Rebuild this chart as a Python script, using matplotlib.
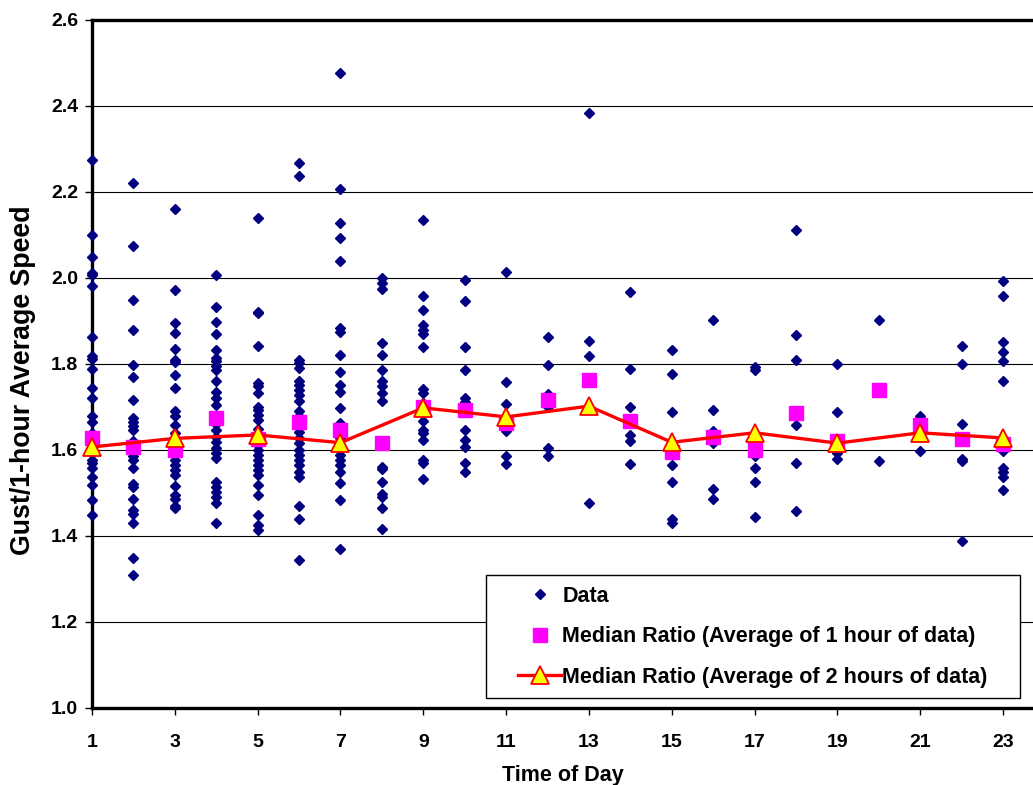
import matplotlib
matplotlib.use("Agg")
import matplotlib.pyplot as plt
from matplotlib.lines import Line2D
from matplotlib.legend_handler import HandlerLine2D

plt.rcParams['font.family'] = ['Liberation Sans', 'DejaVu Sans']
plt.rcParams['font.weight'] = 'bold'

# Gust / 1-hour average speed ratios, one list per hour of day
h01 = [2.275, 2.100, 2.049, 2.012, 2.008, 1.982, 1.862, 1.818, 1.812, 1.788, 1.744, 1.721, 1.678,
       1.664, 1.640, 1.620, 1.605, 1.592, 1.577, 1.570, 1.557, 1.538, 1.518, 1.483, 1.448]
h02 = [2.222, 2.074, 1.948, 1.880, 1.798, 1.770, 1.717, 1.674, 1.664, 1.655, 1.647, 1.620, 1.585,
       1.577, 1.557, 1.522, 1.514, 1.485, 1.460, 1.452, 1.430, 1.350, 1.310]
h03 = [2.161, 1.971, 1.895, 1.871, 1.834, 1.810, 1.805, 1.775, 1.744, 1.690, 1.679, 1.658, 1.640,
       1.588, 1.577, 1.565, 1.553, 1.542, 1.516, 1.495, 1.485, 1.470, 1.464]
h04 = [2.008, 1.932, 1.897, 1.870, 1.833, 1.814, 1.806, 1.795, 1.787, 1.760, 1.736, 1.720, 1.705,
       1.660, 1.647, 1.631, 1.619, 1.604, 1.592, 1.581, 1.526, 1.514, 1.503, 1.491, 1.476, 1.430]
h05 = [2.140, 1.922, 1.918, 1.841, 1.756, 1.748, 1.732, 1.701, 1.693, 1.682, 1.670, 1.650, 1.625,
       1.612, 1.600, 1.588, 1.577, 1.565, 1.553, 1.542, 1.518, 1.495, 1.448, 1.425, 1.415]
h06 = [2.267, 2.237, 1.810, 1.802, 1.791, 1.760, 1.752, 1.740, 1.729, 1.713, 1.690, 1.680, 1.643,
       1.627, 1.616, 1.600, 1.588, 1.577, 1.565, 1.549, 1.538, 1.470, 1.439, 1.345]
h07 = [2.477, 2.207, 2.129, 2.094, 2.039, 1.884, 1.875, 1.821, 1.782, 1.751, 1.735, 1.697, 1.662,
       1.651, 1.628, 1.588, 1.577, 1.565, 1.549, 1.524, 1.483, 1.370]
h08 = [2.001, 1.988, 1.974, 1.849, 1.821, 1.787, 1.760, 1.750, 1.733, 1.714, 1.560, 1.555, 1.526,
       1.498, 1.490, 1.464, 1.416]
h09 = [2.135, 1.959, 1.925, 1.890, 1.879, 1.870, 1.840, 1.743, 1.732, 1.709, 1.685, 1.668, 1.646,
       1.640, 1.623, 1.577, 1.569, 1.532]
h10 = [1.995, 1.946, 1.840, 1.786, 1.720, 1.711, 1.706, 1.646, 1.623, 1.606, 1.569, 1.549]
h11 = [2.015, 1.758, 1.707, 1.662, 1.644, 1.587, 1.567]
h12 = [1.862, 1.798, 1.731, 1.700, 1.604, 1.587]
h13 = [2.384, 1.853, 1.818, 1.477]
h14 = [1.967, 1.788, 1.700, 1.634, 1.620, 1.567]
h15 = [1.833, 1.776, 1.689, 1.566, 1.526, 1.440, 1.431]
h16 = [1.902, 1.692, 1.644, 1.616, 1.509, 1.487]
h17 = [1.793, 1.785, 1.585, 1.557, 1.526, 1.444]
h18 = [2.112, 1.868, 1.810, 1.657, 1.570, 1.459]
h19 = [1.799, 1.688, 1.593, 1.579]
h20 = [1.903, 1.574]
h21 = [1.678, 1.597]
h22 = [1.843, 1.800, 1.661, 1.578, 1.574, 1.389]
h23 = [1.992, 1.957, 1.851, 1.828, 1.806, 1.760, 1.597, 1.558, 1.550, 1.537, 1.508]

hourly_data = [h01, h02, h03, h04, h05, h06, h07, h08, h09, h10, h11, h12,
               h13, h14, h15, h16, h17, h18, h19, h20, h21, h22, h23]

hours = list(range(1, 24))
median_1h = [1.629, 1.606, 1.601, 1.675, 1.625, 1.666, 1.646, 1.617, 1.700, 1.693, 1.662, 1.716,
             1.763, 1.667, 1.596, 1.631, 1.601, 1.686, 1.620, 1.739, 1.657, 1.626, 1.613]

hours_2h = [1, 3, 5, 7, 9, 11, 13, 15, 17, 19, 21, 23]
median_2h = [1.607, 1.627, 1.635, 1.617, 1.698, 1.677, 1.702, 1.618, 1.640, 1.616, 1.640, 1.628]

y_ticks = [1.0, 1.2, 1.4, 1.6, 1.8, 2.0, 2.2, 2.4, 2.6]

W, H = 1033, 785
fig = plt.figure(figsize=(W / 100, H / 100), dpi=100)
ax = fig.add_axes([92 / W, 1 - 708 / H, (W - 92) / W, 688 / H])

# scatter of all data
xs, ys = [], []
for h, vals in zip(hours, hourly_data):
    xs += [h] * len(vals)
    ys += vals
ax.plot(xs, ys, linestyle='none', marker='D', ms=5.2, color='#000080', clip_on=False, zorder=3)

ax.plot(hours, median_1h, linestyle='none', marker='s', ms=10, color='#ff00ff', zorder=4, clip_on=False)
ax.plot(hours_2h, median_2h, color='red', lw=2.4, marker='^', ms=13, mfc='yellow', mec='red',
        mew=1.3, zorder=5, clip_on=False)

ax.set_xlim(1, 1 + (W - 92) / 41.41)
ax.set_ylim(1.0, 2.6)
ax.set_yticks(y_ticks)
ax.set_yticklabels([f"{t:.1f}" for t in y_ticks])
ax.set_xticks(hours_2h)
ax.tick_params(axis='both', direction='out', length=5, width=1, labelsize=14)
ax.tick_params(axis='x', pad=14)
ax.tick_params(axis='y', pad=5)
ax.grid(axis='y', color='black', lw=0.8)
ax.set_axisbelow(True)

for s in ['left', 'top', 'bottom']:
    ax.spines[s].set_linewidth(2.4)
ax.spines['right'].set_visible(False)

ax.set_xlabel("Time of Day", fontsize=15.5, fontweight='bold', labelpad=10)
ax.set_ylabel("Gust/1-hour Average Speed", fontsize=19.3, fontweight='bold')
ax.yaxis.set_label_coords(-0.059, 0.477)

handles = [
    Line2D([], [], linestyle='none', marker='D', ms=5.2, color='#000080'),
    Line2D([], [], linestyle='none', marker='s', ms=10, color='#ff00ff'),
    Line2D([], [], color='red', lw=2.4, marker='^', ms=13, mfc='yellow', mec='red', mew=1.3),
]
labels = ["Data", "Median Ratio (Average of 1 hour of data)", "Median Ratio (Average of 2 hours of data)"]
leg = ax.legend(handles, labels, loc='upper left',
                bbox_to_anchor=(486 / W, 1 - 697 / H, (1020 - 486) / W, (697 - 575) / H),
                bbox_transform=fig.transFigure, mode='expand', borderaxespad=0,
                prop={'weight': 'bold', 'size': 15.5}, frameon=True, fancybox=False,
                edgecolor='black', framealpha=1, borderpad=0.5, handlelength=3.0,
                handletextpad=0.05, labelspacing=0.9,
                handler_map={Line2D: HandlerLine2D(xpad=1.0)})
leg.get_frame().set_linewidth(1.0)
leg.set_zorder(10)

fig.savefig("out.png", dpi=100)
